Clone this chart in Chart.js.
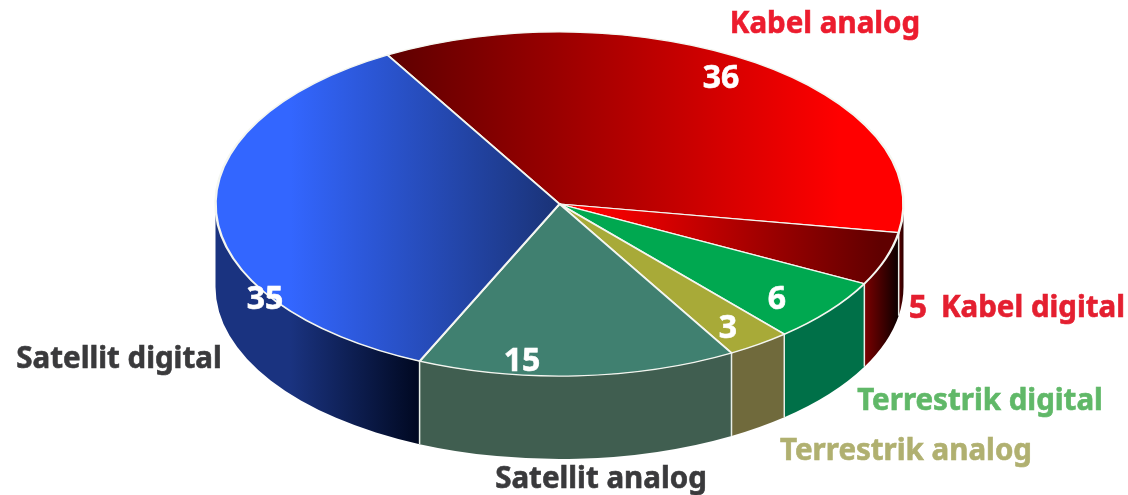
<!DOCTYPE html>
<html>
<head>
<meta charset="utf-8">
<style>
  html, body { margin: 0; padding: 0; background: #fff; }
  canvas { display: block; }
</style>
<script src="https://cdn.jsdelivr.net/npm/chart.js@4"></script>
</head>
<body>
<canvas id="pie" width="1128" height="495"></canvas>
<script>
const categories = ['Kabel analog', 'Kabel digital', 'Terrestrik digital', 'Terrestrik analog', 'Satellit analog', 'Satellit digital'];
const shares = [36, 5, 6, 3, 15, 35];

// gradient stops for top faces and side walls [x0, x1, colour0, colour1]
const topFills = [
    [395, 840, '#600000', '#ff0000'],
    [590, 880, '#ff0000', '#600000'],
    [0, 1128, '#00a850', '#00a850'],
    [0, 1128, '#a8aa38', '#a8aa38'],
    [0, 1128, '#408070', '#408070'],
    [290, 556, '#3366ff', '#1a3378']
];
const wallFills = [
    [897, 903, '#700000', '#300000'],
    [863, 897, '#800000', '#100000'],
    [0, 1128, '#007048', '#007048'],
    [0, 1128, '#706a3c', '#706a3c'],
    [0, 1128, '#405e50', '#405e50'],
    [290, 420, '#1a3380', '#000820']
];
const nameColors = ['#ec1c2e', '#e41f30', '#60b868', '#b0b070', '#3a3a3c', '#3a3a3c'];
const namePlaces = [[825, 25], [1033, 309], [980, 402], [906, 452], [601, 480], [119, 360]];
const valuePlaces = [[721, 79], [918, 309], [777, 300], [728, 329], [522, 362], [265, 300]];
const valueColors = ['#fff', '#e41f30', '#fff', '#fff', '#fff', '#fff'];

const SQUASH = 0.5;
const DEPTH = 83;
const NAME_FONT = 'bold 29.5px "Noto Sans"';
const VALUE_FONT = 'bold 32px "Noto Sans"';

const canvas = document.getElementById('pie');
const g = canvas.getContext('2d');

function gradient(stops) {
    const grad = g.createLinearGradient(stops[0], 0, stops[1], 0);
    grad.addColorStop(0, stops[2]);
    grad.addColorStop(1, stops[3]);
    return grad;
}

// Bold with a thin outline, the plain bold comes out too light
function heavyText(ctx, text, place, color) {
    ctx.fillStyle = color;
    ctx.strokeStyle = color;
    ctx.lineWidth = 0.6;
    ctx.fillText(text, place[0], place[1]);
    ctx.strokeText(text, place[0], place[1]);
}

// Flattens the pie and draws the side walls under it
const tiltPlugin = {
    id: 'tilt',
    beforeDatasetsDraw(chart) {
        const ctx = chart.ctx;
        const arcs = chart.getDatasetMeta(0).data;
        const cx = arcs[0].x, cy = arcs[0].y, rx = arcs[0].outerRadius, ry = rx * SQUASH;

        arcs.forEach((arc, i) => {
            const a0 = Math.max(arc.startAngle, 0);
            const a1 = Math.min(arc.endAngle, Math.PI);
            if (a1 <= a0) return;
            ctx.beginPath();
            ctx.ellipse(cx, cy, rx, ry, 0, a0, a1);
            ctx.ellipse(cx, cy + DEPTH, rx, ry, 0, a1, a0, true);
            ctx.closePath();
            ctx.fillStyle = gradient(wallFills[i]);
            ctx.fill();
        });

        // seams between the walls
        ctx.strokeStyle = '#e8efe8';
        ctx.lineWidth = 1.5;
        arcs.forEach(arc => {
            if (arc.endAngle <= 0 || arc.endAngle >= Math.PI) return;
            const x = cx + rx * Math.cos(arc.endAngle);
            const y = cy + ry * Math.sin(arc.endAngle);
            ctx.beginPath();
            ctx.moveTo(x, y);
            ctx.lineTo(x, y + DEPTH);
            ctx.stroke();
        });

        ctx.save();
        ctx.translate(0, cy);
        ctx.scale(1, SQUASH);
        ctx.translate(0, -cy);
    },
    afterDatasetsDraw(chart) {
        chart.ctx.restore();
    },
    afterDraw(chart) {
        const ctx = chart.ctx;
        ctx.save();
        ctx.textAlign = 'center';
        ctx.textBaseline = 'middle';
        categories.forEach((name, i) => {
            ctx.font = NAME_FONT;
            heavyText(ctx, name, namePlaces[i], nameColors[i]);
            ctx.font = VALUE_FONT;
            heavyText(ctx, String(shares[i]), valuePlaces[i], valueColors[i]);
        });
        ctx.restore();
    }
};

new Chart(canvas, {
    type: 'pie',
    data: {
        labels: categories,
        datasets: [{
            data: shares,
            backgroundColor: topFills.map(gradient),
            borderColor: '#f4f6f0',
            borderWidth: 2.5,
            clip: false
        }]
    },
    options: {
        responsive: false,
        animation: false,
        rotation: -30,
        radius: 344,
        layout: { padding: { right: 9, bottom: 87 } },
        plugins: { legend: { display: false }, tooltip: { enabled: false } }
    },
    plugins: [tiltPlugin]
});
</script>
</body>
</html>
